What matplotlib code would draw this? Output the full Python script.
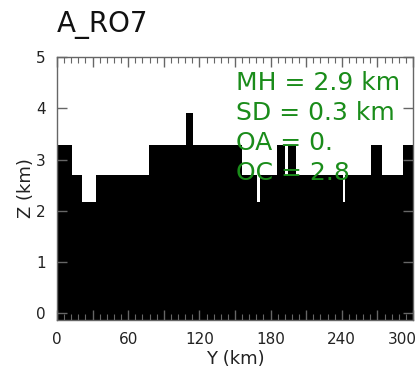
import matplotlib
matplotlib.use("Agg")
import matplotlib.pyplot as plt
import matplotlib.transforms as mtransforms
from matplotlib.ticker import MultipleLocator

# Terrain cross-section: cell edges along Y (km) and surface height (km)
y_edges = [0, 13, 21.3, 32.9, 77.8, 108.4, 114.8, 156, 168.7, 171, 185.7,
           192.1, 194.9, 201.3, 240.7, 242.6, 264.3, 273.5, 291.2, 300]
z_height = [3.28, 2.70, 2.18, 2.70, 3.28, 3.90, 3.28, 2.70, 2.18, 2.70,
            3.28, 2.70, 3.28, 2.70, 2.18, 2.70, 3.28, 2.70, 3.28]

title = "A_RO7"
stats = ["MH = 2.9 km", "SD = 0.3 km", "OA = 0.", "OC = 2.8"]
x_ticks = list(range(0, 301, 30))
x_labels = [str(t) if t % 60 == 0 else "" for t in x_ticks]
z_ticks = [0, 1, 2, 3, 4, 5]

plt.rcParams["font.family"] = ["DejaVu Sans"]

W, H = 420, 374
fig = plt.figure(figsize=(W / 100, H / 100), dpi=100)
ax = fig.add_axes([57 / W, 1 - 320 / H, (413 - 57) / W, (320 - 57) / H])

ax.stairs(z_height, y_edges, baseline=-1, fill=True, color="black", lw=0)

ax.set_xlim(0, 300)
ax.set_ylim(-0.13, 5)

spine_col = "#666666"
for s in ax.spines.values():
    s.set_color(spine_col)
    s.set_linewidth(1.0)

ax.set_xticks(x_ticks)
ax.set_xticklabels(x_labels)
ax.xaxis.set_minor_locator(MultipleLocator(6))
ax.set_yticks(z_ticks)
ax.tick_params(axis="both", which="both", direction="in", top=True, right=True,
               color=spine_col, labelsize=11, labelcolor="#222222")
ax.tick_params(axis="both", which="major", length=7, width=1)
ax.tick_params(axis="both", which="minor", length=4, width=0.8)
ax.tick_params(axis="x", pad=9)
ax.tick_params(axis="y", pad=8)

# keep the last Y label inside the figure
lbls = ax.get_xticklabels()
off = mtransforms.ScaledTranslation(-11 / 100, 0, fig.dpi_scale_trans)
lbls[-1].set_transform(lbls[-1].get_transform() + off)

ax.set_xlabel("Y (km)", fontsize=13, color="#222222", labelpad=2)
ax.set_ylabel("Z (km)", fontsize=13, color="#222222", labelpad=1)

fig.text(57 / W, 1 - 32 / H, title, fontsize=20, color="#111111",
         ha="left", va="baseline")

green = "#1a8c1a"
for i, s in enumerate(stats):
    fig.text(236 / W, 1 - (90 + 30 * i) / H, s, fontsize=18, color=green,
             ha="left", va="baseline")

fig.savefig("out.png", dpi=100)
